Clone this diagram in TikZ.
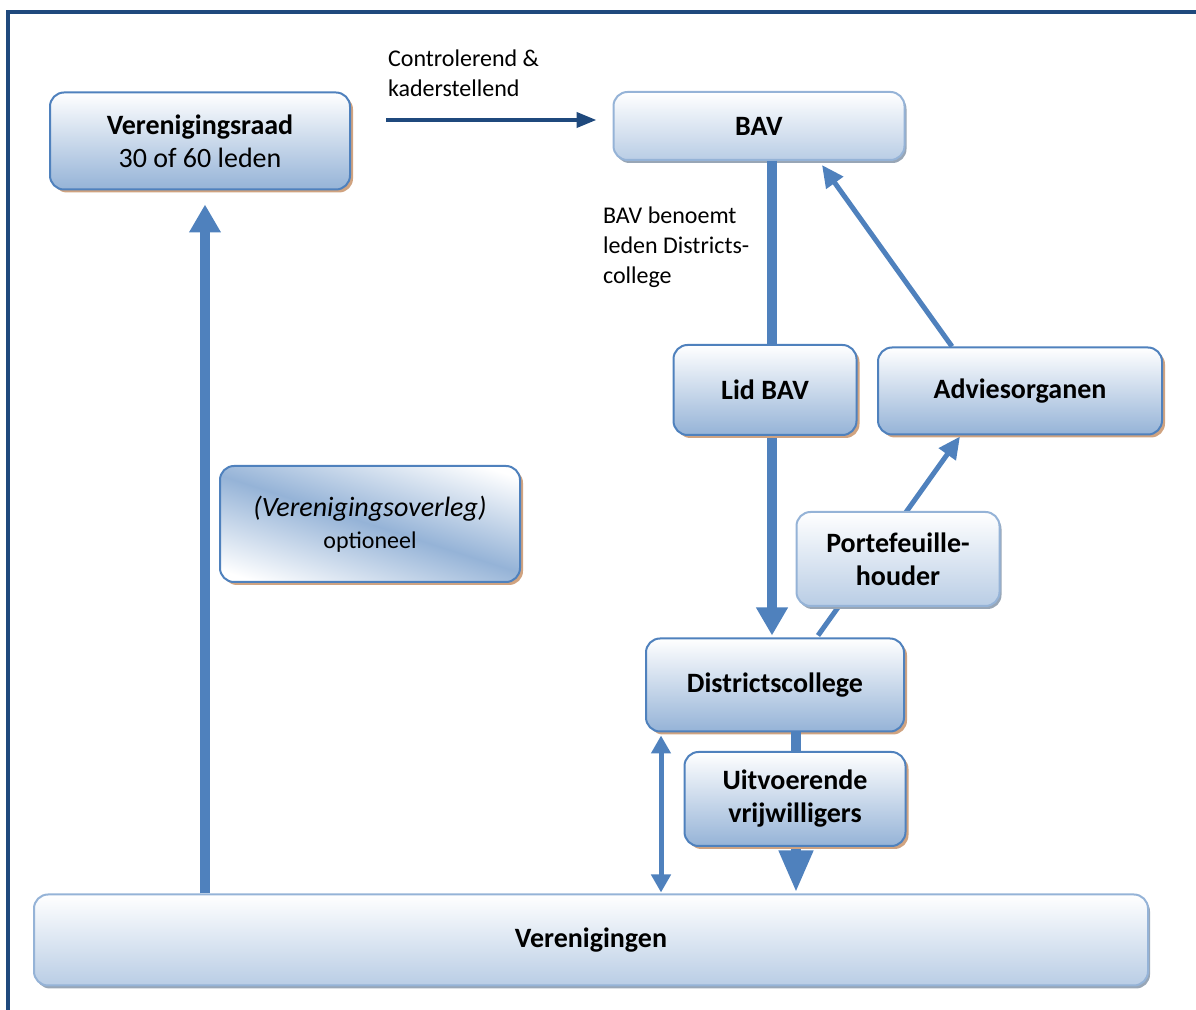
\documentclass[tikz,border=0pt]{standalone}
\usepackage{fontspec}
\setmainfont{Carlito}
\usetikzlibrary{arrows.meta,shadows,calc}

\definecolor{boxline}{HTML}{4F81BD}
\definecolor{boxdark}{HTML}{95B3D7}
\definecolor{boxlight}{HTML}{B9CDE5}
\definecolor{tanshade}{RGB}{208,163,128}
\definecolor{grayshade}{RGB}{152,166,182}
\definecolor{navy}{HTML}{1F497D}

\pgfdeclareverticalshading{overlegshade}{100bp}{color(0bp)=(white); color(22bp)=(white); color(50bp)=(boxdark); color(78bp)=(white); color(100bp)=(white)}

\begin{document}
\begin{tikzpicture}[x=0.5pt,y=-0.5pt,
    darkbox/.style={draw=boxline, line width=1pt, rounded corners=7pt, top color=white, bottom color=boxdark,
        align=center, font=\fontsize{14}{16.5}\selectfont\bfseries,
        drop shadow={shadow xshift=1.5pt, shadow yshift=-1.5pt, fill=tanshade, opacity=1}},
    lightbox/.style={draw=boxdark, line width=1pt, rounded corners=7pt, top color=white, bottom color=boxlight,
        align=center, font=\fontsize{14}{16.5}\selectfont\bfseries,
        drop shadow={shadow xshift=1pt, shadow yshift=-1.5pt, fill=grayshade, opacity=1}},
    note/.style={align=left, anchor=west, font=\fontsize{12}{15}\selectfont},
    bigarrow/.style={draw=boxline, line width=5pt, -{Triangle[width=15pt,length=14pt]}},
    midarrow/.style={draw=boxline, line width=2.5pt, -{Triangle[width=10pt,length=11pt]}},
    darkarrow/.style={draw=navy, line width=2pt, -{Triangle[width=7.5pt,length=10pt]}}]
    \useasboundingbox (0,0) rectangle (1196,1010);

    % frame
    \draw[navy, line width=2pt] (8,1010) -- (8,12) -- (1196,12);

    % boxes
    \draw (200,141) node[darkbox, minimum width=150pt, minimum height=48.5pt] (raad) {Verenigingsraad\\\mdseries 30 of 60 leden};
    \draw (759,126) node[lightbox, minimum width=145.5pt, minimum height=34pt] (bav) {BAV};
    \draw (1020,391) node[darkbox, minimum width=142pt, minimum height=43.5pt] (advies) {Adviesorganen};
    \draw (370,524) node[darkbox, shading=overlegshade, shading angle=-18, minimum width=150pt, minimum height=58pt,
        font=\fontsize{14}{16}\selectfont] (overleg) {\itshape (Verenigingsoverleg)\\\upshape\fontsize{12}{14}\selectfont optioneel};
    \draw (775,685) node[darkbox, minimum width=129pt, minimum height=46.5pt] (dc) {Districtscollege};
    \draw (591,940) node[lightbox, minimum width=557pt, minimum height=45.5pt] (ver) {Verenigingen};

    % labels
    \node[note] (ctrl) at (381,73) {Controlerend \&\\kaderstellend};
    \node[note] (benoemt) at (596,247) {BAV benoemt\\leden Districts-\\college};

    % connectors
    \draw[darkarrow] ($(raad.east)+(35,-21)$) -- ($(bav.west)+(-16,-6)$);
    \draw[bigarrow] ($(bav.south)+(13,0)$) -- ($(dc.north)+(-3,-2)$);
    \draw[midarrow] ($(advies.north)+(-68,0)$) -- ($(bav.south)+(63,4)$);
    \draw[midarrow] ($(dc.north)+(43,-2)$) -- ($(advies.south)+(-60,1)$);
    \draw[bigarrow] ($(ver.north)+(-386,0)$) -- ($(raad.south)+(5,14)$);
    \draw[draw=boxline, line width=2.5pt, {Triangle[width=9.5pt,length=9pt]}-{Triangle[width=9.5pt,length=9pt]}]
        ($(dc.south)+(-114,3)$) -- ($(ver.north)+(70,-1)$);
    \draw[draw=boxline, line width=5pt, -{Triangle[width=16pt,length=21pt]}] ($(dc.south)+(21,0)$) -- ($(ver.north)+(205,-1)$);

    % boxes over the lines
    \draw (765,390) node[darkbox, minimum width=91.5pt, minimum height=45pt] (lid) {Lid BAV};
    \draw (898,559) node[lightbox, minimum width=101.5pt, minimum height=47pt] (porte) {Portefeuille-\\houder};
    \draw (795,799) node[darkbox, minimum width=110.5pt, minimum height=47pt] (uitv) {Uitvoerende\\vrijwilligers};
\end{tikzpicture}
\end{document}
